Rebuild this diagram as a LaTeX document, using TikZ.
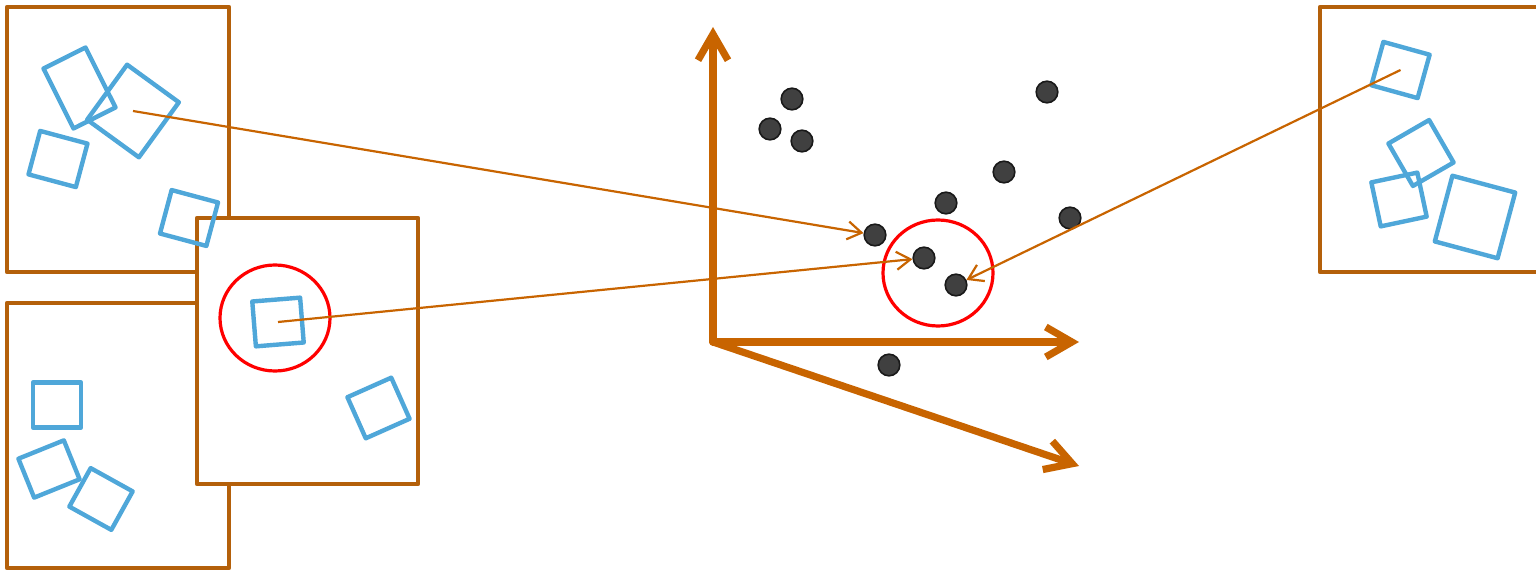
\documentclass[tikz,border=0pt]{standalone}
\usepackage{tikz}
\usetikzlibrary{arrows.meta, shapes.geometric, positioning}

\definecolor{framebrown}{RGB}{180,96,10}
\definecolor{axisorange}{RGB}{200,100,0}
\definecolor{patchblue}{RGB}{79,167,217}
\definecolor{dotgray}{RGB}{64,64,64}

\begin{document}
\begin{tikzpicture}[x=0.5pt,y=-0.5pt,
 frame/.style={draw=framebrown,line width=2.3pt,line join=round},
 patch/.style={draw=patchblue,line width=2.2pt,inner sep=0pt,line join=round},
 point/.style={circle,draw=black!90,fill=dotgray,line width=0.8pt,minimum size=10.8pt,inner sep=0pt},
 axis/.style={draw=axisorange,line width=3.6pt,line cap=round,-{Straight Barb[length=13pt,width=15pt]}},
 match/.style={draw=axisorange,line width=1.1pt,-{Straight Barb[length=7pt,width=9pt]}},
 ring/.style={ellipse,draw=red,line width=1.6pt,minimum width=55pt,minimum height=53pt,inner sep=0pt}]
  \useasboundingbox (0,0) rectangle (1536,571);

  % images
  \draw[frame] (7,7) rectangle (229,272);
  \draw[frame] (7,303) rectangle (229,568);
  \draw[frame,fill=white] (197,218) rectangle (418,484);
  \draw[frame] (1320,7) rectangle (1560,272);

  % patches: name/x/y/width/height/angle
  \foreach \n/\x/\y/\w/\h/\r in {
    pA/79.5/88/23.5/33.5/26.6, pB/133/111/32/34/-36, pC/58/159/24.5/22.5/-15,
    pD/189/218/24/22.5/-15, pE/278/322/24/22.5/4.6, pF/378.5/408/24/22.5/24,
    pG/57/405/24/22.5/0, pH/49/469/24.5/21/22, pI/101/499/24/22/-29,
    pJ/1400.5/70/24/22.5/-15.5, pK/1421/153/23.5/24.5/30,
    pL/1399/199.5/23.5/22.5/12, pM/1475/217/32.5/34/-15} {
    \node[patch,minimum width=\w pt,minimum height=\h pt,rotate=\r] (\n) at (\x,\y) {};}

  \node[ring] (selE) at (275,318) {};
  \node[ring] (selP) at (938,273) {};

  % embedding space
  \coordinate (o) at (713,342);
  \coordinate (ay) at (713,27);
  \coordinate (ax) at (1079,342);
  \coordinate (az) at (1079,466);
  \draw[axis] (o) -- (ay);
  \draw[axis] (o) -- (ax);
  \draw[axis] (o) -- (az);

  \foreach \n/\x/\y in {p1/792/99, p2/770/129, p3/802/141, p4/1047/92,
    p5/1004/172, p6/946/203, p7/1070/218, p8/875/235, p9/924/258,
    p10/956/285, p11/889/365} {
    \node[point] (\n) at (\x,\y) {};}

  \draw[match] (pB.center) -- (p8);
  \draw[match] (pE.center) -- (p9);
  \draw[match] (pJ.center) -- (p10);
\end{tikzpicture}
\end{document}
